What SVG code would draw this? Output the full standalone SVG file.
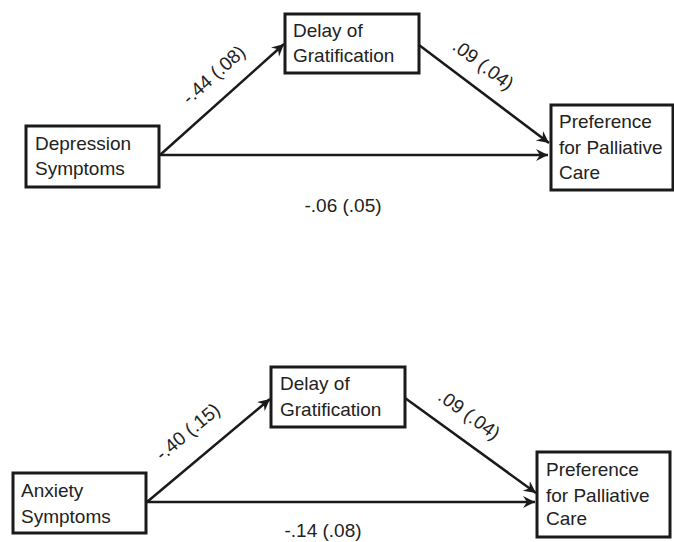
<svg xmlns="http://www.w3.org/2000/svg" width="674" height="542" viewBox="0 0 674 542">
<style>
  .box { fill: #ffffff; stroke: #1a1a1a; stroke-width: 3; }
  .lbl { font-family: "Liberation Sans", Arial, sans-serif; font-size: 19px; fill: #222222; }
  .edge { stroke: #1a1a1a; stroke-width: 2.5; fill: none; marker-end: url(#arr); }
</style>
<defs>
  <marker id="arr" markerUnits="userSpaceOnUse" markerWidth="14" markerHeight="14" refX="12" refY="6" orient="auto">
    <path d="M0,0 L12,6 L0,12 L4,6 Z" fill="#1a1a1a"/>
  </marker>
</defs>
<rect width="674" height="542" fill="#ffffff"/>

<g id="connectors">
  <line class="edge" x1="160" y1="155" x2="284" y2="44"/>
  <line class="edge" x1="419" y1="45" x2="549" y2="143"/>
  <line class="edge" x1="160" y1="155" x2="548" y2="155"/>
  <line class="edge" x1="147" y1="502" x2="270" y2="399"/>
  <line class="edge" x1="405" y1="398" x2="536" y2="493"/>
  <line class="edge" x1="147" y1="502" x2="535" y2="502"/>
  <text class="lbl" text-anchor="middle" transform="translate(214,75) rotate(-42)" x="0" y="6">-.44 (.08)</text>
  <text class="lbl" text-anchor="middle" transform="translate(483,65) rotate(37)" x="0" y="6">.09 (.04)</text>
  <text class="lbl" text-anchor="middle" x="343" y="212">-.06 (.05)</text>
  <text class="lbl" text-anchor="middle" transform="translate(188,432) rotate(-40)" x="0" y="6">-.40 (.15)</text>
  <text class="lbl" text-anchor="middle" transform="translate(469,415) rotate(36)" x="0" y="6">.09 (.04)</text>
  <text class="lbl" text-anchor="middle" x="323" y="537">-.14 (.08)</text>
</g>

<g id="depression">
  <rect class="box" x="26" y="126" width="133" height="61"/>
  <text class="lbl" x="35" y="150">Depression</text>
  <text class="lbl" x="35" y="175">Symptoms</text>
</g>
<g id="delay-top">
  <rect class="box" x="285" y="14" width="134" height="59"/>
  <text class="lbl" x="293" y="37">Delay of</text>
  <text class="lbl" x="293" y="62">Gratification</text>
</g>
<g id="preference-top">
  <rect class="box" x="551" y="105" width="122" height="85"/>
  <text class="lbl" x="559" y="128">Preference</text>
  <text class="lbl" x="559" y="154">for Palliative</text>
  <text class="lbl" x="559" y="179">Care</text>
</g>

<g id="anxiety">
  <rect class="box" x="13" y="473" width="133" height="60"/>
  <text class="lbl" x="21" y="497">Anxiety</text>
  <text class="lbl" x="21" y="523">Symptoms</text>
</g>
<g id="delay-bottom">
  <rect class="box" x="271" y="367" width="134" height="60"/>
  <text class="lbl" x="280" y="390">Delay of</text>
  <text class="lbl" x="280" y="416">Gratification</text>
</g>
<g id="preference-bottom">
  <rect class="box" x="537" y="452" width="133" height="85"/>
  <text class="lbl" x="546" y="476">Preference</text>
  <text class="lbl" x="546" y="502">for Palliative</text>
  <text class="lbl" x="546" y="525">Care</text>
</g>
</svg>
